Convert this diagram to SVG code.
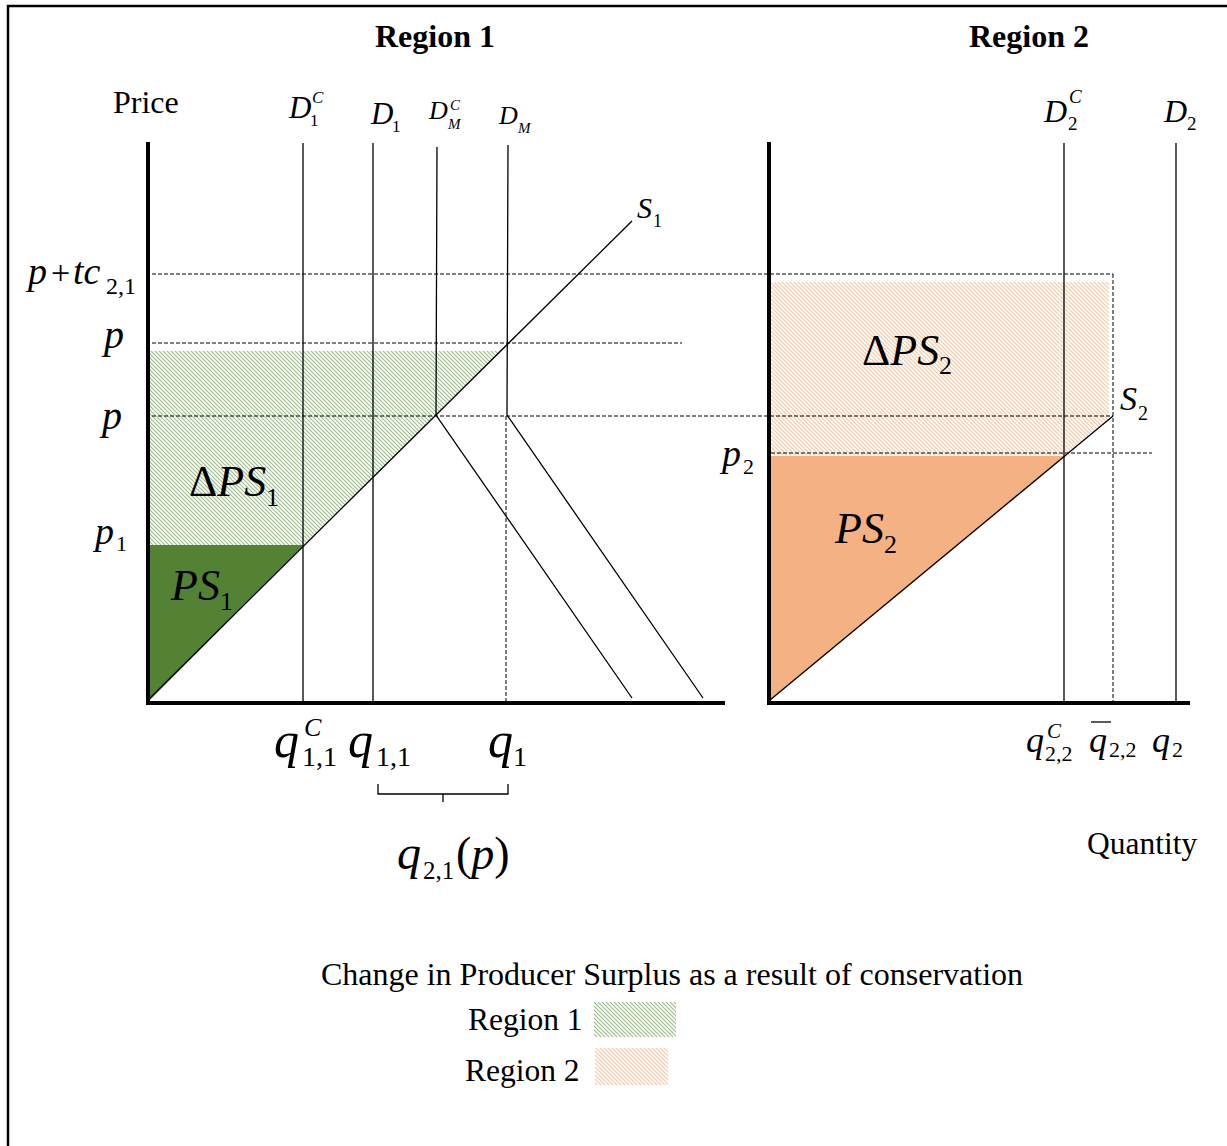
<svg xmlns="http://www.w3.org/2000/svg" width="1227" height="1146" viewBox="0 0 1227 1146">
<style>
.t{font-family:"Liberation Serif","Times New Roman",serif;fill:#000}
.b{font-weight:bold}
.m{font-family:"Liberation Serif","Times New Roman",serif;font-style:italic;fill:#000}
.u{font-style:normal}
.ln{stroke:#000;stroke-width:1.3;fill:none}
.ax{stroke:#000;stroke-width:4;fill:none}
.dash{stroke:#000;stroke-width:1;stroke-dasharray:4,2;fill:none}
</style>
<defs>
<pattern id="hg" patternUnits="userSpaceOnUse" width="4" height="4">
<rect width="4" height="4" fill="#fff"/>
<path d="M-1,-1 L5,5 M-1,3 L1,5 M3,-1 L5,1" stroke="#9fbf8f" stroke-width="1.2"/>
</pattern>
<pattern id="ho" patternUnits="userSpaceOnUse" width="4" height="4">
<rect width="4" height="4" fill="#fff"/>
<path d="M-1,-1 L5,5 M-1,3 L1,5 M3,-1 L5,1" stroke="#f7c8a8" stroke-width="1.2"/>
</pattern>
</defs>
<rect x="0" y="0" width="1227" height="1146" fill="#fff"/>
<rect x="8" y="6" width="1250" height="1200" fill="none" stroke="#000" stroke-width="2.5"/>

<g id="areas">
<polygon id="dps1" points="150,351 500,351 304,545 150,545" fill="url(#hg)"/>
<polygon id="ps1" points="150,545 304,545 150,700" fill="#548235"/>
<polygon id="dps2" points="771,282 1109,282 1109,419 1066,455 771,455" fill="url(#ho)"/>
<polygon id="ps2" points="771,456 1066,456 771,700" fill="#f4b183"/>
</g>

<g id="connectors">
<line class="dash" x1="152" y1="274" x2="1113" y2="274"/>
<line class="dash" x1="1113" y1="274" x2="1113" y2="701"/>
<line class="dash" x1="152" y1="343" x2="682" y2="343"/>
<line class="dash" x1="152" y1="416" x2="1113" y2="416"/>
<line class="dash" x1="771" y1="453" x2="1152" y2="453"/>
<line class="dash" x1="506" y1="416" x2="506" y2="701"/>
<line class="ln" x1="148" y1="700" x2="632" y2="221"/>
<line class="ln" x1="303" y1="143" x2="303" y2="703"/>
<line class="ln" x1="373" y1="143" x2="373" y2="703"/>
<polyline class="ln" points="437,147 436,415 632,698"/>
<polyline class="ln" points="508,145 507,415 703,698"/>
<line class="ln" x1="770" y1="700" x2="1113" y2="416"/>
<line class="ln" x1="1064" y1="143" x2="1064" y2="703"/>
<line class="ln" x1="1176" y1="143" x2="1176" y2="703"/>
<polyline class="ax" points="148,142 148,703 725,703"/>
<polyline class="ax" points="769,142 769,703 1190,703"/>
<polyline class="ln" points="378,784 378,794 508,794 508,784"/>
<line class="ln" x1="443" y1="794" x2="443" y2="802"/>
</g>

<g id="titles">
<text class="t b" x="435" y="47" font-size="32" text-anchor="middle">Region 1</text>
<text class="t b" x="1029" y="47" font-size="32" text-anchor="middle">Region 2</text>
<text class="t" x="113" y="113" font-size="32">Price</text>
<text class="t" x="1087" y="854" font-size="31.5">Quantity</text>
</g>

<g id="curve-labels">
<text class="m" x="289" y="118" font-size="31">D</text>
<text class="m u" x="310" y="126" font-size="17">1</text>
<text class="m" x="312" y="103" font-size="17">C</text>

<text class="m" x="371" y="124" font-size="31">D</text>
<text class="m u" x="392" y="132" font-size="17">1</text>

<text class="m" x="429" y="119" font-size="26">D</text>
<text class="m" x="448" y="129" font-size="15">M</text>
<text class="m" x="450" y="110" font-size="15">C</text>

<text class="m" x="499" y="124" font-size="26">D</text>
<text class="m" x="518" y="133" font-size="15">M</text>

<text class="m" x="1044" y="122" font-size="32">D</text>
<text class="m u" x="1068" y="130" font-size="19">2</text>
<text class="m" x="1069" y="103" font-size="19">C</text>

<text class="m" x="1164" y="122" font-size="32">D</text>
<text class="m u" x="1187" y="130" font-size="19">2</text>

<text class="m" x="637" y="218" font-size="30">S</text>
<text class="m u" x="653" y="227" font-size="18">1</text>

<text class="m" x="1120" y="410" font-size="34">S</text>
<text class="m u" x="1138" y="420" font-size="20">2</text>
</g>

<g id="price-labels">
<text class="m" x="28" y="284" font-size="38">p</text>
<text class="m u" x="51" y="284" font-size="34">+</text>
<text class="m" x="73" y="284" font-size="38">tc</text>
<text class="m u" x="106" y="294" font-size="24">2,1</text>
<text class="m" x="104" y="348" font-size="40">p</text>
<text class="m" x="102" y="429" font-size="40">p</text>
<text class="m" x="95" y="544" font-size="38">p</text>
<text class="m u" x="116" y="551" font-size="22">1</text>
<text class="m" x="722" y="466" font-size="38">p</text>
<text class="m u" x="743" y="474" font-size="22">2</text>
</g>

<g id="area-labels">
<text class="m" x="189" y="496" font-size="44"><tspan class="u">Δ</tspan>PS</text>
<text class="m u" x="266" y="506" font-size="26">1</text>
<text class="m" x="171" y="600" font-size="44">PS</text>
<text class="m u" x="220" y="610" font-size="26">1</text>
<text class="m" x="862" y="365" font-size="44"><tspan class="u">Δ</tspan>PS</text>
<text class="m u" x="939" y="374" font-size="26">2</text>
<text class="m" x="835" y="543" font-size="44">PS</text>
<text class="m u" x="884" y="553" font-size="26">2</text>
</g>

<g id="quantity-labels">
<text class="m" x="274" y="757" font-size="50">q</text>
<text class="m u" x="302" y="766" font-size="28">1,1</text>
<text class="m" x="304" y="736" font-size="26">C</text>
<text class="m" x="348" y="757" font-size="50">q</text>
<text class="m u" x="376" y="766" font-size="28">1,1</text>
<text class="m" x="488" y="757" font-size="50">q</text>
<text class="m u" x="513" y="766" font-size="28">1</text>
<text class="m" x="397" y="869" font-size="48">q</text>
<text class="m u" x="423" y="879" font-size="25">2,1</text>
<text class="m" x="456" y="869" font-size="46"><tspan class="u">(</tspan>p<tspan class="u">)</tspan></text>

<text class="m" x="1026" y="752" font-size="36">q</text>
<text class="m u" x="1045" y="761" font-size="22">2,2</text>
<text class="m" x="1047" y="738" font-size="21">C</text>
<text class="m" x="1089" y="752" font-size="36">q</text>
<line class="ln" x1="1091" y1="722" x2="1111" y2="722" stroke-width="2"/>
<text class="m u" x="1109" y="757" font-size="22">2,2</text>
<text class="m" x="1152" y="752" font-size="36">q</text>
<text class="m u" x="1172" y="757" font-size="22">2</text>
</g>

<g id="legend">
<text class="t" x="672" y="985" font-size="32" text-anchor="middle">Change in Producer Surplus as a result of conservation</text>
<text class="t" x="468" y="1030" font-size="31.5">Region 1</text>
<rect x="594" y="1002" width="82" height="35" fill="url(#hg)"/>
<text class="t" x="465" y="1081" font-size="31.5">Region 2</text>
<rect x="595" y="1048" width="73" height="37" fill="url(#ho)"/>
</g>
</svg>
